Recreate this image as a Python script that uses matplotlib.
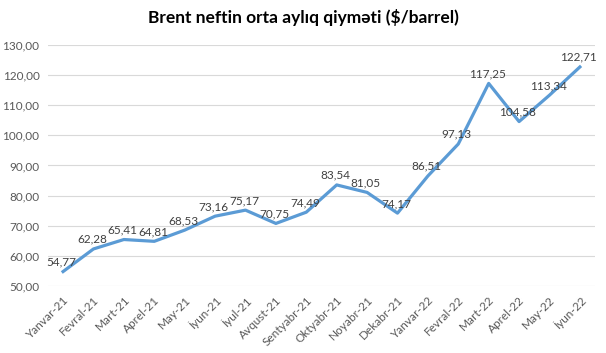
import matplotlib.pyplot as plt
import numpy as np

# Brent neft qiyməti, aylıq orta
months = ["Yanvar-21", "Fevral-21", "Mart-21", "Aprel-21", "May-21", "İyun-21",
          "İyul-21", "Avqust-21", "Sentyabr-21", "Oktyabr-21", "Noyabr-21", "Dekabr-21",
          "Yanvar-22", "Fevral-22", "Mart-22", "Aprel-22", "May-22", "İyun-22"]
prices = [54.77, 62.28, 65.41, 64.81, 68.53, 73.16, 75.17, 70.75, 74.49, 83.54,
          81.05, 74.17, 86.51, 97.13, 117.25, 104.58, 113.34, 122.71]
yticks = [50, 60, 70, 80, 90, 100, 110, 120, 130]

plt.rcParams['font.family'] = ['Lato', 'DejaVu Sans']

fig = plt.figure(figsize=(6.06, 3.53), dpi=100)
ax = fig.add_axes([0.079, 0.19, 0.903, 0.6825])

x = np.arange(len(months))
ax.plot(x, prices, color="#5b9bd5", lw=2.3, solid_joinstyle="round", zorder=3)

for xi, v in zip(x, prices):
    ax.annotate(f"{v:.2f}".replace(".", ","), (xi, v), xytext=(-1, 3),
                textcoords="offset points", ha="center", va="bottom",
                fontsize=8.5, color="#404040", zorder=4)

ax.set_xlim(-0.5, len(months) - 0.5)
ax.set_ylim(50, 130)
ax.set_yticks(yticks)
ax.set_yticklabels([f"{t:.2f}".replace(".", ",") for t in yticks])
ax.set_xticks(x)
ax.set_xticklabels(months, rotation=45, ha="right", rotation_mode="anchor")
ax.tick_params(axis="both", length=0, labelsize=8.5, colors="#595959")
ax.tick_params(axis="x", pad=6)
ax.tick_params(axis="y", pad=6)
ax.grid(axis="y", color="#d9d9d9", lw=0.8)
ax.set_axisbelow(True)
for s in ax.spines.values():
    s.set_visible(False)

fig.text(0.5, 0.95, "Brent neftin orta aylıq qiyməti ($/barrel)", ha="center",
         va="center", fontsize=12.5, fontweight="bold", color="black")

fig.savefig("out.png", dpi=100)
